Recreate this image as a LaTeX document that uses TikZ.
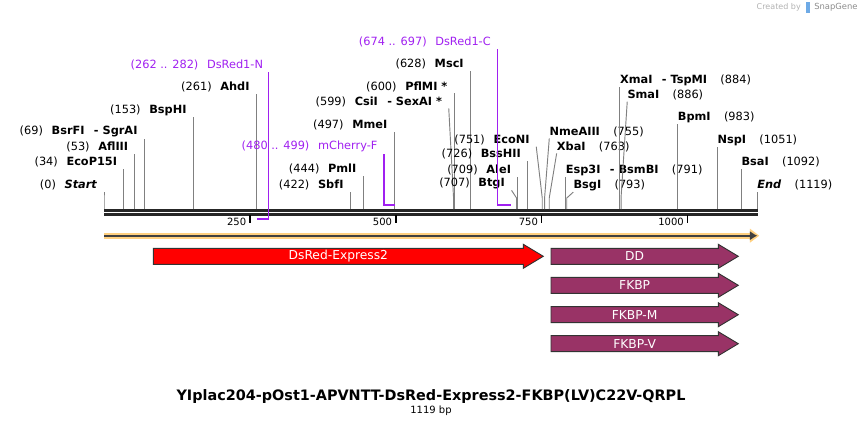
\documentclass[tikz,border=0pt]{standalone}
\usepackage{fontspec}
\setmainfont{DejaVu Sans}
\usetikzlibrary{calc,arrows.meta}

\definecolor{leadergray}{RGB}{128,128,128}
\definecolor{primerpurple}{RGB}{160,32,240}
\definecolor{featred}{RGB}{255,0,0}
\definecolor{featplum}{RGB}{153,51,102}
\definecolor{bandorange}{RGB}{255,208,128}
\definecolor{logoblue}{RGB}{110,170,230}

\newcommand{\lsite}[2]{(#1)\hspace{6.5pt}\textbf{#2}}
\newcommand{\rsite}[2]{\textbf{#1}\hspace{10pt}(#2)}
\newcommand{\sdash}{\hspace{7pt}-\hspace{3pt}}

\tikzset{
  sitelabel/.style={font=\fontsize{8.5}{10}\selectfont, inner xsep=0pt, inner ysep=1pt},
  primerlabel/.style={sitelabel, text=primerpurple},
  leader/.style={leadergray, line width=0.7pt},
  primer/.style={primerpurple, line width=1.1pt},
  backbone/.style={black!85, line width=2pt},
  tick/.style={black, line width=1.2pt},
  ticklabel/.style={font=\fontsize{7.5}{9}\selectfont, inner sep=0pt},
  featbox/.style={draw=black!80, line width=0.7pt},
  feattext/.style={text=white, font=\fontsize{9.2}{11}\selectfont, inner sep=0pt},
}

\begin{document}
\begin{tikzpicture}[x=0.75pt, y=-0.75pt]
\useasboundingbox (0,0) rectangle (862,428);
% backbone
\draw[backbone] (104,210.3) -- (757.7,210.3);
\draw[backbone] (104,214.3) -- (757.7,214.3);
% ruler ticks
\foreach \t in {250,500,750,1000} {
  \pgfmathsetmacro\tx{104+\t/1119*653}
  \draw[tick] (\tx,215) -- (\tx,222.7);
  \node[ticklabel, anchor=east] (t\t) at (\tx-3.5,221.5) {\t};
}
% cut sites, labels on the left
\foreach \bp/\dl/\ly/\nm in {0/0/185/\textit{Start}, 34/0/162/EcoP15I, 53/0/147.3/AflIII,
    69/0/131.7/BsrFI\sdash SgrAI, 153/0/110/BspHI, 261/0/87.3/AhdI, 422/0/185/SbfI,
    444/0/169.3/PmlI, 497/0/125/MmeI, 599/4.8/101.7/CsiI\sdash SexAI *, 600/0/86.7/PflMI *,
    628/0/64.3/MscI, 707/5/183.3/BtgI, 709/0/170/AleI, 726/0/154/BssHII, 751/6/140/EcoNI} {
  \pgfmathsetmacro\sx{104+\bp/1119*653}
  \coordinate (s\bp) at (\sx,209);
  \node[sitelabel, anchor=east] (l\bp) at (\sx-6.5-\dl,\ly) {\lsite{\bp}{\nm}};
  \draw[leader] (s\bp) -- ++(0,-11) -- ($(l\bp.south east)+(6.5,0)$);
}
% cut sites, labels on the right
\foreach \bp/\dr/\ly/\nm in {755/4.7/131.7/NmeAIII, 763/7.4/146.7/XbaI,
    791/0/170/Esp3I\sdash BsmBI, 793/6.5/185/BsgI, 884/0/80/XmaI\sdash TspMI,
    886/6.2/95/SmaI, 983/0/117.3/BpmI, 1051/0/140/NspI, 1092/0/162.3/BsaI,
    1119/0/185/\textit{End}} {
  \pgfmathsetmacro\sx{104+\bp/1119*653}
  \coordinate (s\bp) at (\sx,209);
  \node[sitelabel, anchor=west] (r\bp) at (\sx+\dr,\ly) {\rsite{\nm}{\bp}};
  \draw[leader] (s\bp) -- ++(0,-11) -- (r\bp.south west);
}
% primers
\coordinate (pNa) at (256.9,219);
\coordinate (pNb) at (268.6,219);
\node[primerlabel, anchor=east] (pNl) at (263.3,65) {(262 .. 282)\hspace{6.5pt}DsRed1-N};
\draw[primer] (pNa) -- (pNb) -- (pNb |- pNl.south);
\coordinate (pMa) at (384.1,205);
\coordinate (pMb) at (395.2,205);
\node[primerlabel, anchor=east] (pMl) at (377.7,146.7) {(480 .. 499)\hspace{6.5pt}mCherry-F};
\draw[primer] (pMb) -- (pMa) -- (pMa |- pMl.south);
\coordinate (pCa) at (497.3,205);
\coordinate (pCb) at (510.8,205);
\node[primerlabel, anchor=east] (pCl) at (491,42.3) {(674 .. 697)\hspace{6.5pt}DsRed1-C};
\draw[primer] (pCb) -- (pCa) -- (pCa |- pCl.south);
% direction arrow
\coordinate (dirL) at (104,235.7);
\coordinate (dirR) at (757.3,235.7);
\draw[bandorange, line width=4.5pt, -{Triangle[length=7pt,width=10pt]}] (dirL) -- ([xshift=1.5pt]dirR);
\draw[black!75, line width=1.5pt, -{Latex[length=5.5pt,width=7pt]}] (dirL) -- (dirR);
% features
\foreach \nm/\fa/\fb/\fy/\fc/\ft in {dsred/153.3/543.3/256.3/featred/DsRed-Express2,
    dd/551/738.3/256.3/featplum/DD, fkbp/551/738.3/285.3/featplum/FKBP,
    fkbpm/551/738.3/314.7/featplum/FKBP-M, fkbpv/551/738.3/343.7/featplum/FKBP-V} {
  \filldraw[featbox, fill=\fc] (\fa,\fy-8) -- (\fb-20,\fy-8) -- (\fb-20,\fy-12) -- (\fb,\fy)
    -- (\fb-20,\fy+12) -- (\fb-20,\fy+8) -- (\fa,\fy+8) -- cycle;
  \node[feattext] (\nm) at ({(\fa+\fb-20)/2},\fy) {\ft};
}
% title
\node[font=\fontsize{10.8}{13}\selectfont\bfseries] (title) at (431,397) {YIplac204-pOst1-APVNTT-DsRed-Express2-FKBP(LV)C22V-QRPL};
\node[font=\fontsize{7.5}{9}\selectfont] (size) at (431,411) {1119 bp};
% credit
\node[font=\fontsize{6}{7}\selectfont, text=black!30, anchor=east, inner sep=0pt] (credit) at (801,7.5) {Created by};
\fill[logoblue] (806,2) rectangle (810,13);
\node[font=\fontsize{6.3}{7}\selectfont, text=black!45, anchor=west, inner sep=0pt] (snapgene) at (814,7.5) {SnapGene};
\end{tikzpicture}
\end{document}
